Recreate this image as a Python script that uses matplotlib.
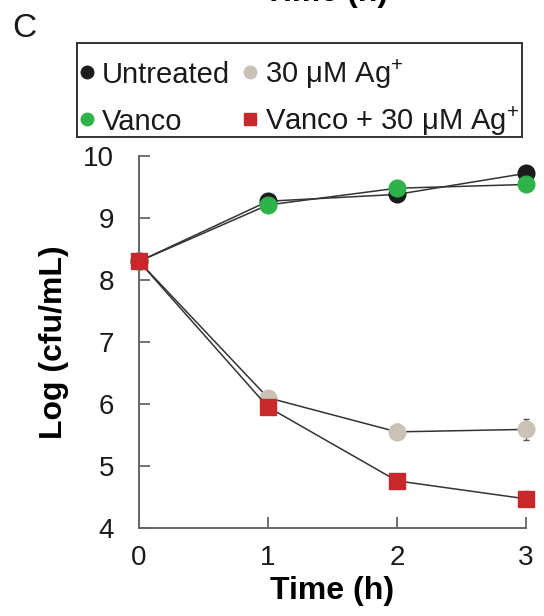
import matplotlib
matplotlib.use("Agg")
import matplotlib.pyplot as plt
from matplotlib.lines import Line2D
from matplotlib.patches import Rectangle

plt.rcParams["font.family"] = ["Liberation Sans", "DejaVu Sans"]
plt.rcParams["mathtext.fontset"] = "custom"
plt.rcParams["mathtext.rm"] = "Liberation Sans"
plt.rcParams["mathtext.it"] = "Liberation Sans:italic"
plt.rcParams["mathtext.bf"] = "Liberation Sans:bold"

# Time course of log CFU/mL for each treatment
time_h = [0, 1, 2, 3]
untreated = [8.3, 9.27, 9.38, 9.72]
untreated_err = [0.03, 0.05, 0.10, 0.06]
silver = [8.3, 6.10, 5.55, 5.59]
silver_err = [0.03, 0.10, 0.12, 0.17]
vanco = [8.3, 9.21, 9.48, 9.54]
vanco_err = [0.03, 0.05, 0.05, 0.06]
vanco_silver = [8.3, 5.95, 4.76, 4.47]
vanco_silver_err = [0.03, 0.05, 0.05, 0.12]

labels = ["Untreated", "30 \u03bcM Ag$^{+}$", "Vanco", "Vanco + 30 \u03bcM Ag$^{+}$"]
colors = ["#1c1c1c", "#cbc2b6", "#2eb34b", "#c7282b"]
markers = ["o", "o", "o", "s"]

W, H = 544, 616
fig = plt.figure(figsize=(W / 100, H / 100), dpi=100)
ax = fig.add_axes([0.2555, 0.1429, 0.7113, 0.6039])

series = [
    (untreated, untreated_err),
    (silver, silver_err),
    (vanco, vanco_err),
    (vanco_silver, vanco_silver_err),
]
for i, (vals, err) in enumerate(series):
    ms = 11 if markers[i] == "s" else 12
    ax.errorbar(time_h, vals, yerr=err, color="#333333", lw=1.1,
                ecolor="#555555", elinewidth=1.0, capsize=2, capthick=1.0,
                marker=markers[i], ms=ms, mfc=colors[i], mec=colors[i],
                clip_on=False, zorder=3 + i)

ax.set_xlim(0, 3)
ax.set_ylim(4, 10)
ax.set_xticks([0, 1, 2, 3])
ax.set_yticks([4, 5, 6, 7, 8, 9, 10])
for side in ("top", "right"):
    ax.spines[side].set_visible(False)
for side in ("left", "bottom"):
    ax.spines[side].set_color("#666666")
    ax.spines[side].set_linewidth(1.4)
ax.tick_params(axis="both", direction="in", length=8, width=1.3,
               color="#666666", labelsize=20, labelcolor="#1a1a1a")
ax.tick_params(axis="y", pad=18)
ax.tick_params(axis="x", pad=12)
ax.set_xlabel("Time (h)", fontsize=23, fontweight="bold", labelpad=4)
ax.set_ylabel("Log (cfu/mL)", fontsize=23, fontweight="bold", labelpad=10)


def px(x, y):
    """pixel position from the top-left corner -> figure fraction"""
    return x / W, 1 - y / H


# boxed two-by-two legend above the axes, laid out row by row
x0, y0 = px(77, 137)
x1, y1 = px(522, 43)
fig.add_artist(Rectangle((x0, y0), x1 - x0, y1 - y0, transform=fig.transFigure,
                         fill=False, edgecolor="#333333", linewidth=1.4))
slots = [(87, 72), (250, 72), (87, 119), (250, 119)]
for i, (mx, my) in enumerate(slots):
    ms = 8.5 if markers[i] == "s" else 9
    fig.add_artist(Line2D([mx / W], [1 - my / H], transform=fig.transFigure,
                          ls="none", marker=markers[i], ms=ms,
                          mfc=colors[i], mec=colors[i]))
    tx, ty = px(mx + 15, my + 11)
    fig.text(tx, ty, labels[i], fontsize=21, color="#1a1a1a", va="baseline")

# panel letter and the bottom of the label from the panel above
fig.text(0.022, 0.940, "C", fontsize=24, color="#1a1a1a")
fig.text(0.60, 0.9985, "Time (h)", fontsize=23, fontweight="bold",
         ha="center", va="baseline")

fig.savefig("out.png", dpi=100, facecolor="white")
